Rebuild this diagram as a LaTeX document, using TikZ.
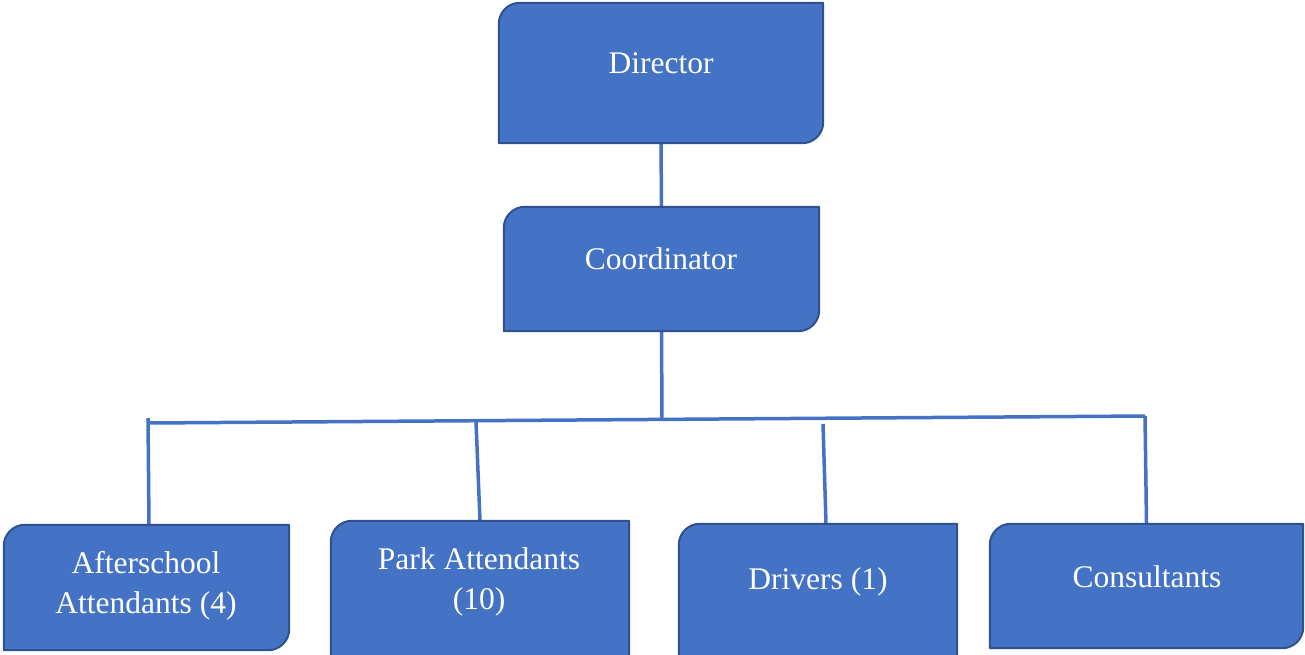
\documentclass[tikz,border=0pt]{standalone}
\usepackage{fontspec}
\setmainfont{Liberation Serif}
\usetikzlibrary{calc}
\definecolor{boxfill}{HTML}{4472C4}
\definecolor{boxedge}{HTML}{2F528F}
\tikzset{
  orgbox/.style={draw=none, rectangle, inner sep=0pt},
  orgtext/.style={text=white, font=\fontsize{31.5}{40}\selectfont, align=center, inner sep=0pt},
  link/.style={draw=boxfill, line width=3.5pt},
  diag/.style={fill=boxfill, draw=boxedge, line width=2pt, line join=round}
}
% outline with rounded top-left and bottom-right corners
\newcommand\roundDiag[2][21pt]{%
  \path[diag] (#2.south west) -- ($(#2.north west)+(0,-#1)$)
    arc[start angle=180, end angle=90, radius=#1] -- (#2.north east)
    -- ($(#2.south east)+(0,#1)$)
    arc[start angle=0, end angle=-90, radius=#1] -- cycle;}
\begin{document}
\begin{tikzpicture}[x=1pt, y=-1pt]
  \useasboundingbox (0,0) rectangle (1305,654);
  \clip (0,0) rectangle (1305,654);

  % box frames
  \node[orgbox, minimum width=324pt, minimum height=140pt] (dir)  at (661,73) {};
  \node[orgbox, minimum width=315pt, minimum height=124pt] (coo)  at (661.5,269) {};
  \node[orgbox, minimum width=285pt, minimum height=125pt] (afs)  at (146.5,587.5) {};
  \node[orgbox, minimum width=298pt, minimum height=154pt] (park) at (480,598) {};
  \node[orgbox, minimum width=278pt, minimum height=151pt] (drv)  at (818,599.5) {};
  \node[orgbox, minimum width=313pt, minimum height=124pt] (con)  at (1146.5,586) {};

  % connectors
  \coordinate (hub) at (662,420);
  \coordinate (hl) at (148,423);
  \coordinate (hr) at (1145,416);
  \coordinate (afsTop) at (148,418);
  \coordinate (parkTop) at (476,422);
  \coordinate (drvTop) at (823,424);
  \draw[link] (dir.south) -- (coo.north);
  \draw[link] (coo.south) -- (hub);
  \draw[link] (hl) -- (hr);
  \draw[link] (afsTop) -- ($(afs.north)+(2.5,0)$);
  \draw[link] (parkTop) -- (park.north);
  \draw[link] (drvTop) -- ($(drv.north)+(8,0)$);
  \draw[link] (hr) -- (con.north);

  % boxes
  \roundDiag{dir}
  \roundDiag{coo}
  \roundDiag{afs}
  \roundDiag{park}
  \roundDiag{drv}
  \roundDiag{con}

  % labels
  \node[orgtext] (dirT)  at (661,63)   {Director};
  \node[orgtext] (cooT)  at (661,259)  {Coordinator};
  \node[orgtext] (afsT)  at (146,586)  {Afterschool\\Attendants (4)};
  \node[orgtext] (parkT) at (479,582)  {Park Attendants\\(10)};
  \node[orgtext] (drvT)  at (818,582)  {Drivers (1)};
  \node[orgtext] (conT)  at (1147,577) {Consultants};
\end{tikzpicture}
\end{document}
